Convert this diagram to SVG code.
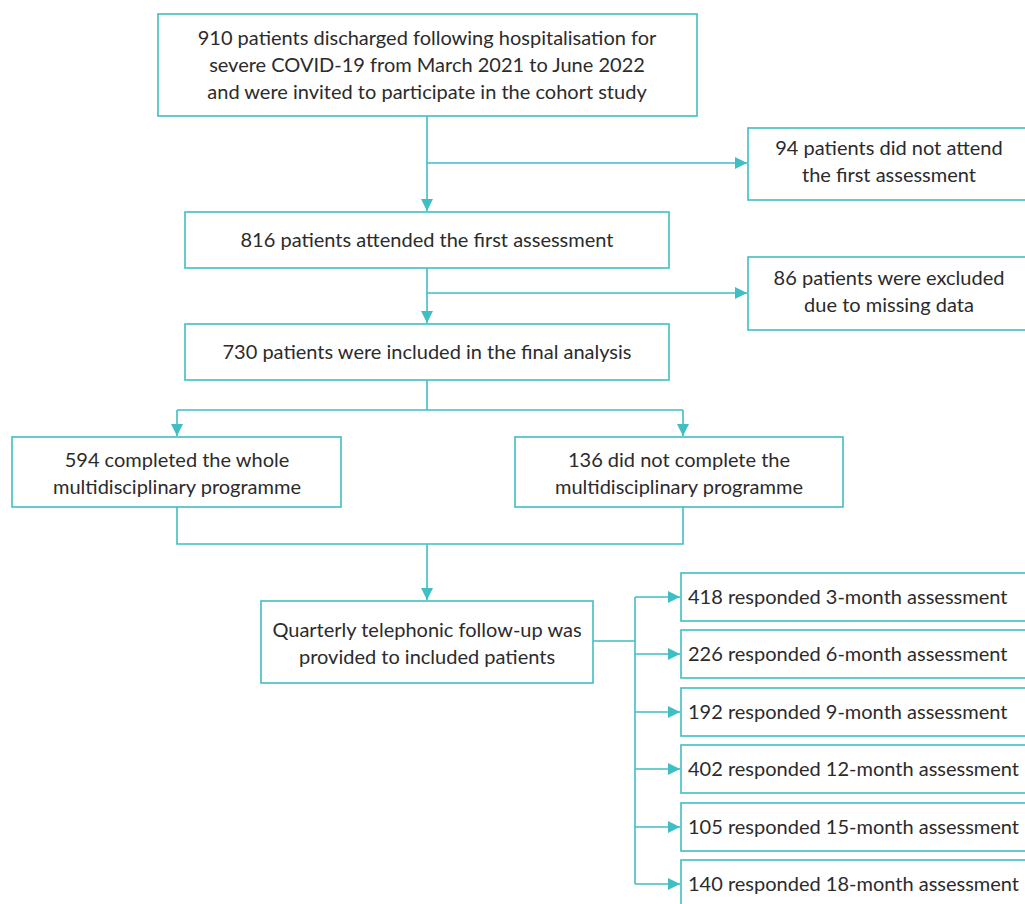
<svg xmlns="http://www.w3.org/2000/svg" width="1025" height="904" viewBox="0 0 1025 904">
<style>
.box{fill:#fff;stroke:#3fbec4;stroke-width:1.6}
.ln{fill:none;stroke:#3fbec4;stroke-width:1.6}
text{font-family:Lato,"Noto Sans",sans-serif;font-size:20px;fill:#2b2b2b}
.c{text-anchor:middle}
</style>
<defs>
<marker id="ah" markerWidth="14" markerHeight="14" refX="12" refY="6" orient="auto" markerUnits="userSpaceOnUse">
<path d="M0,0 L12,6 L0,12 Z" fill="#3fbec4"/>
</marker>
</defs>
<g id="connectors">
<path class="ln" d="M427,116 V211" marker-end="url(#ah)"/>
<path class="ln" d="M427,163 H747" marker-end="url(#ah)"/>
<path class="ln" d="M427,268 V323" marker-end="url(#ah)"/>
<path class="ln" d="M427,293 H747" marker-end="url(#ah)"/>
<path class="ln" d="M427,380 V410"/>
<path class="ln" d="M177,410 H683"/>
<path class="ln" d="M177,410 V436" marker-end="url(#ah)"/>
<path class="ln" d="M683,410 V436" marker-end="url(#ah)"/>
<path class="ln" d="M177,507 V544 H683 V507"/>
<path class="ln" d="M427,544 V600" marker-end="url(#ah)"/>
<path class="ln" d="M593,641 H635"/>
<path class="ln" d="M635,597 V884"/>
<path class="ln" d="M635,597 H680" marker-end="url(#ah)"/>
<path class="ln" d="M635,654 H680" marker-end="url(#ah)"/>
<path class="ln" d="M635,712 H680" marker-end="url(#ah)"/>
<path class="ln" d="M635,769 H680" marker-end="url(#ah)"/>
<path class="ln" d="M635,827 H680" marker-end="url(#ah)"/>
<path class="ln" d="M635,884 H680" marker-end="url(#ah)"/>
</g>
<g id="n1">
<rect class="box" x="158" y="14" width="539" height="102"/>
<text class="c" x="427" y="45">910 patients discharged following hospitalisation for</text>
<text class="c" x="427" y="72">severe COVID-19 from March 2021 to June 2022</text>
<text class="c" x="427" y="99">and were invited to participate in the cohort study</text>
</g>
<g id="n2">
<rect class="box" x="748" y="128" width="282" height="72"/>
<text class="c" x="889" y="155">94 patients did not attend</text>
<text class="c" x="889" y="182">the first assessment</text>
</g>
<g id="n3">
<rect class="box" x="185" y="212" width="484" height="56"/>
<text class="c" x="427" y="247">816 patients attended the first assessment</text>
</g>
<g id="n4">
<rect class="box" x="748" y="257" width="282" height="73"/>
<text class="c" x="889" y="285">86 patients were excluded</text>
<text class="c" x="889" y="312">due to missing data</text>
</g>
<g id="n5">
<rect class="box" x="185" y="324" width="484" height="56"/>
<text class="c" x="427" y="359">730 patients were included in the final analysis</text>
</g>
<g id="n6">
<rect class="box" x="12" y="437" width="329" height="70"/>
<text class="c" x="177" y="467">594 completed the whole</text>
<text class="c" x="177" y="494">multidisciplinary programme</text>
</g>
<g id="n7">
<rect class="box" x="515" y="437" width="328" height="70"/>
<text class="c" x="679" y="467">136 did not complete the</text>
<text class="c" x="679" y="494">multidisciplinary programme</text>
</g>
<g id="n8">
<rect class="box" x="261" y="601" width="332" height="82"/>
<text class="c" x="427" y="637">Quarterly telephonic follow-up was</text>
<text class="c" x="427" y="664">provided to included patients</text>
</g>
<g id="n9"><rect class="box" x="681" y="573" width="350" height="48"/><text x="688" y="604">418 responded 3-month assessment</text></g>
<g id="n10"><rect class="box" x="681" y="630" width="350" height="48"/><text x="688" y="661">226 responded 6-month assessment</text></g>
<g id="n11"><rect class="box" x="681" y="688" width="350" height="48"/><text x="688" y="719">192 responded 9-month assessment</text></g>
<g id="n12"><rect class="box" x="681" y="745" width="350" height="48"/><text x="688" y="776">402 responded 12-month assessment</text></g>
<g id="n13"><rect class="box" x="681" y="803" width="350" height="48"/><text x="688" y="834">105 responded 15-month assessment</text></g>
<g id="n14"><rect class="box" x="681" y="860" width="350" height="60"/><text x="688" y="891">140 responded 18-month assessment</text></g>
</svg>
